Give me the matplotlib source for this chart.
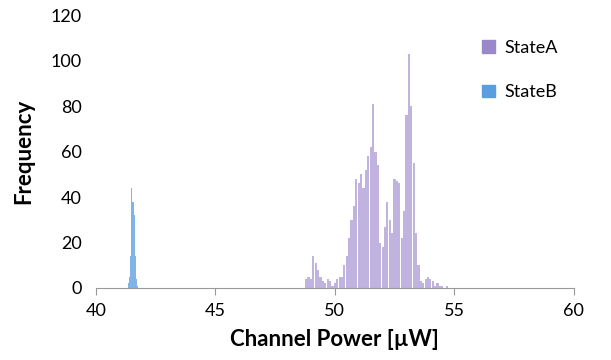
import numpy as np
import matplotlib.pyplot as plt

# histogram bins (channel power, uW) and counts
state_a_x = np.round(np.arange(48.8, 54.75, 0.1), 2)
state_a = [4, 5, 4, 14, 11, 8, 5, 3, 2, 4,
           3, 1, 2, 4, 5, 5, 10, 14, 22, 30,
           36, 48, 46, 50, 44, 52, 58, 62, 81, 60,
           54, 20, 18, 27, 38, 30, 24, 48, 47, 46,
           22, 34, 76, 103, 80, 55, 24, 10, 3, 2,
           4, 5, 4, 3, 1, 2, 1, 1, 0, 1]
state_b_x = [41.35, 41.40, 41.45, 41.50, 41.55, 41.60, 41.65, 41.70, 41.75]
state_b = [2, 5, 14, 44, 38, 32, 14, 4, 1]

plt.rcParams['font.family'] = ['Lato', 'DejaVu Sans']

fig = plt.figure(figsize=(6.11, 3.6), dpi=100)
ax = fig.add_axes([0.157, 0.2, 0.782, 0.758])

ax.bar(state_a_x, state_a, width=0.09, color='#c0b3df', label='StateA')
ax.bar(state_b_x, state_b, width=0.05, color='#80b3e6', label='StateB')

ax.set_xlim(40, 60)
ax.set_ylim(0, 120)
ax.set_xticks([40, 45, 50, 55, 60])
ax.set_yticks(range(0, 121, 20))
ax.tick_params(axis='x', length=5, color='#999999', labelsize=13, pad=6)
ax.tick_params(axis='y', length=0, labelsize=13, pad=10)
for s in ['top', 'right', 'left']:
    ax.spines[s].set_visible(False)
ax.spines['bottom'].set_color('#999999')

ax.set_xlabel('Channel Power [µW]', fontsize=16, fontweight='bold', labelpad=7)
ax.set_ylabel('Frequency', fontsize=16, fontweight='bold', labelpad=12)

leg = ax.legend(loc='upper right', bbox_to_anchor=(1.0, 0.97), frameon=False,
                fontsize=13, handlelength=0.7, handleheight=0.7,
                handletextpad=0.5, labelspacing=1.6)
leg.legend_handles[0].set_color('#9b88c8')
leg.legend_handles[1].set_color('#5a9ee0')

fig.savefig('out.png')
